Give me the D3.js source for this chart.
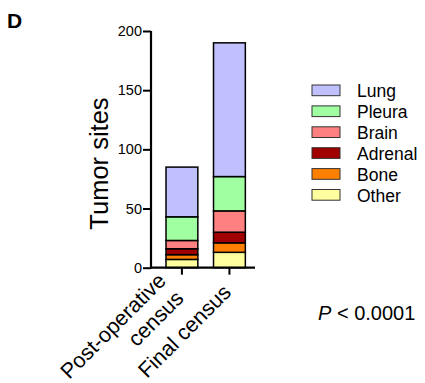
<!DOCTYPE html>
<html><head><meta charset="utf-8">
<script src="https://cdn.jsdelivr.net/npm/d3@7"></script>
<style>body{margin:0;background:#fff;}svg{display:block;font-family:"Liberation Sans",Arial,sans-serif;}</style>
</head><body>
<svg id="c" width="425" height="383"></svg>
<script>
const categories = ["Post-operative census", "Final census"];
const categoryLines = [["Post-operative", "census"], ["Final census"]];
const sites = ["Other", "Bone", "Adrenal", "Brain", "Pleura", "Lung"];
const other   = [7, 13];
const bone    = [4, 8];
const adrenal = [5, 9];
const brain   = [7, 18];
const pleura  = [20, 29];
const lung    = [42, 113];
const yTicks = [0, 50, 100, 150, 200];
const colors = ["#FFFFA0", "#FF8000", "#A00000", "#FF8080", "#A0FFA0", "#C0C0FF"];
const legendOrder = ["Lung", "Pleura", "Brain", "Adrenal", "Bone", "Other"];

const seriesVals = {Other: other, Bone: bone, Adrenal: adrenal, Brain: brain, Pleura: pleura, Lung: lung};
const table = categories.map((c, i) => {
  const o = {cat: c};
  sites.forEach(s => o[s] = seriesVals[s][i]);
  return o;
});
const stack = d3.stack().keys(sites)(table);
const color = d3.scaleOrdinal().domain(sites).range(colors);

const svg = d3.select("#c");
const y = d3.scaleLinear().domain([0, 200]).range([267.7, 31]);
const x = d3.scaleBand().domain(categories).range([151.75, 259.6]).paddingInner(0.33).paddingOuter(0.3);

// bars
svg.append("g").selectAll("g").data(stack).join("g")
  .attr("fill", d => color(d.key))
  .selectAll("rect").data(d => d).join("rect")
  .attr("x", d => x(d.data.cat))
  .attr("width", x.bandwidth())
  .attr("y", d => y(d[1]))
  .attr("height", d => y(d[0]) - y(d[1]))
  .attr("stroke", "#000").attr("stroke-width", 1.5);

// y axis
const ya = svg.append("g").attr("transform", "translate(151,0)")
  .call(d3.axisLeft(y).tickValues(yTicks).tickSize(8).tickPadding(1));
ya.select(".domain").attr("stroke-width", 2.2).attr("d", `M0,${y(0)+1}V${y(200)}`);
ya.selectAll(".tick line").attr("stroke-width", 2);
ya.selectAll(".tick text").attr("font-size", 14.5).attr("fill", "#000").attr("font-family", "Liberation Sans, Arial");

// x axis
const xa = svg.append("g").attr("transform", `translate(0,${y(0)})`)
  .call(d3.axisBottom(x).tickSize(7).tickFormat(""));
xa.select(".domain").attr("stroke-width", 2.2).attr("d", "M150,0H255");
xa.selectAll(".tick line").attr("stroke-width", 2);

// x labels
const lh = 25;
categories.forEach((c, i) => {
  const cx = x(c) + x.bandwidth() / 2;
  const lines = categoryLines[i];
  const t = svg.append("text")
    .attr("transform", `translate(${cx + 3},${y(0) + 26 + (lines.length - 1) * 6}) rotate(-45)`)
    .attr("text-anchor", "end").attr("font-size", 21.5).attr("fill", "#000");
  lines.forEach((ln, j) => {
    t.append("tspan").attr("x", 0).attr("y", (j - (lines.length - 1)) * lh).text(ln);
  });
});

// y title
svg.append("text").attr("transform", "translate(108,163.5) rotate(-90)")
  .attr("text-anchor", "middle").attr("font-size", 25.5).attr("fill", "#000").text("Tumor sites");

// panel letter
svg.append("text").attr("x", 7).attr("y", 28).attr("font-size", 21).attr("font-weight", "bold").text("D");

// legend
const lg = svg.append("g").selectAll("g").data(legendOrder).join("g")
  .attr("transform", (d, i) => `translate(312,${85 + i * 20.9})`);
lg.append("rect").attr("width", 28).attr("height", 10.7)
  .attr("fill", d => color(d)).attr("stroke", "#333").attr("stroke-width", 1);
lg.append("text").attr("x", 45).attr("y", 12).attr("font-size", 17.5).attr("fill", "#000").text(d => d);

// P value
const p = svg.append("text").attr("x", 318).attr("y", 320).attr("font-size", 20).attr("fill", "#000");
p.append("tspan").attr("font-style", "italic").text("P");
p.append("tspan").text(" < 0.0001");
</script>
</body></html>
